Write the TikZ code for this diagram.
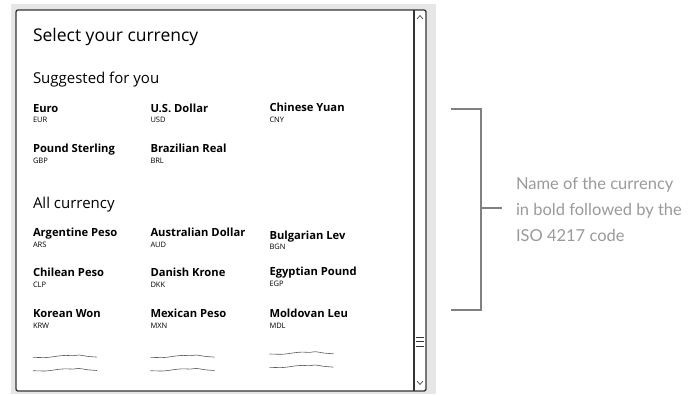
\documentclass[tikz,border=0pt]{standalone}
\usepackage{fontspec}
\setmainfont{Open Sans}
\newfontfamily\notefont{Lato}
\definecolor{panelgray}{HTML}{E6E6E6}
\definecolor{framedark}{HTML}{333333}
\definecolor{notegray}{HTML}{9A9A9A}
\definecolor{bracketgray}{HTML}{808080}
\begin{document}
\begin{tikzpicture}[x=1pt,y=-1pt,
  every node/.style={inner sep=0pt,outer sep=0pt,anchor=base west},
  titletext/.style={font=\fontsize{17.5}{20}\selectfont,text=black},
  headtext/.style={font=\fontsize{15}{18}\selectfont,text=black},
  nametext/.style={font=\fontsize{11.2}{13}\selectfont\bfseries,text=black},
  codetext/.style={font=\fontsize{7.5}{9}\selectfont,text=black},
  notetext/.style={font=\notefont\fontsize{16.5}{26.3}\selectfont,text=notegray,
    align=left,anchor=base west},
  frameline/.style={draw=framedark,line width=1.3pt},
  squigline/.style={draw=framedark!80,line width=0.6pt},
  bracketline/.style={draw=bracketgray,line width=2.4pt},
  pics/squig/.style={code={
    \draw[squigline] plot[smooth] coordinates {(0,0) (12,0.3) (19,-0.4) (26,-1.4)
      (33,-1.9) (40,-1.6) (46,-2.3) (54,-1.0) (64,-0.2)};
  }}
]
\useasboundingbox (0,0) rectangle (691,394);
\fill[white] (0,0) rectangle (691,394);
% grey backdrop behind the window
\fill[panelgray] (11,4) rectangle (436,394);
% window with scrollbar
\draw[frameline,fill=white,rounded corners=2pt] (16,10) rectangle (426,391);
\draw[frameline] (414,10) -- (414,391);
\draw[framedark,line width=0.6pt] (417,19) -- (420,15.5) -- (423,19);
\draw[framedark,line width=0.6pt] (417,381) -- (420,384.5) -- (423,381);
\draw[framedark,line width=0.8pt] (416,337) -- (424,337) (416,341) -- (424,341) (416,346) -- (424,346);

% headings
\node[titletext] (title) at (33,41.7) {Select your currency};
\node[headtext] (suggested) at (33,83) {Suggested for you};
\node[headtext] (allcur) at (33,208.3) {All currency};

% suggested currencies
\node[nametext] (eur) at (33,112.7) {Euro};
\node[codetext] (eurc) at (33,122.7) {EUR};
\node[nametext] (usd) at (150.5,112.2) {U.S. Dollar};
\node[codetext] (usdc) at (150.5,122.7) {USD};
\node[nametext] (cny) at (269.5,111.7) {Chinese Yuan};
\node[codetext] (cnyc) at (269.5,122.7) {CNY};
\node[nametext] (gbp) at (33,152.7) {Pound Sterling};
\node[codetext] (gbpc) at (33,163) {GBP};
\node[nametext] (brl) at (150.5,152.7) {Brazilian Real};
\node[codetext] (brlc) at (150.5,163) {BRL};

% all currencies
\node[nametext] (ars) at (33,236.7) {Argentine Peso};
\node[codetext] (arsc) at (33,247.7) {ARS};
\node[nametext] (aud) at (150.5,236.7) {Australian Dollar};
\node[codetext] (audc) at (150.5,247.7) {AUD};
\node[nametext] (bgn) at (269.5,239) {Bulgarian Lev};
\node[codetext] (bgnc) at (269.5,249.3) {BGN};
\node[nametext] (clp) at (33,276.7) {Chilean Peso};
\node[codetext] (clpc) at (33,287.3) {CLP};
\node[nametext] (dkk) at (150.5,276.7) {Danish Krone};
\node[codetext] (dkkc) at (150.5,287.3) {DKK};
\node[nametext] (egp) at (269.5,275.5) {Egyptian Pound};
\node[codetext] (egpc) at (269.5,286) {EGP};
\node[nametext] (krw) at (33,317.3) {Korean Won};
\node[codetext] (krwc) at (33,328.3) {KRW};
\node[nametext] (mxn) at (150.5,317.3) {Mexican Peso};
\node[codetext] (mxnc) at (150.5,328.3) {MXN};
\node[nametext] (mdl) at (269.5,317.7) {Moldovan Leu};
\node[codetext] (mdlc) at (269.5,328.3) {MDL};

% placeholder lines for more entries
\pic at (33,357.3) {squig};
\pic at (33,370.7) {squig};
\pic at (150.5,357.3) {squig};
\pic at (150.5,370.7) {squig};
\pic at (269.5,354) {squig};
\pic at (269.5,367.3) {squig};

% annotation bracket
\coordinate (btop) at (451,109);
\coordinate (bbot) at (451,310);
\coordinate (bmid) at (502,208);
\draw[bracketline] (btop) -- (481,109) -- (481,310) -- (bbot);
\draw[bracketline] (481,208) -- (bmid);
% the base anchor of a multi-line node sits on its last line
\node[notetext] (note) at (516,241.7) {Name of the currency\\in bold followed by the\\ISO 4217 code};
\end{tikzpicture}
\end{document}
